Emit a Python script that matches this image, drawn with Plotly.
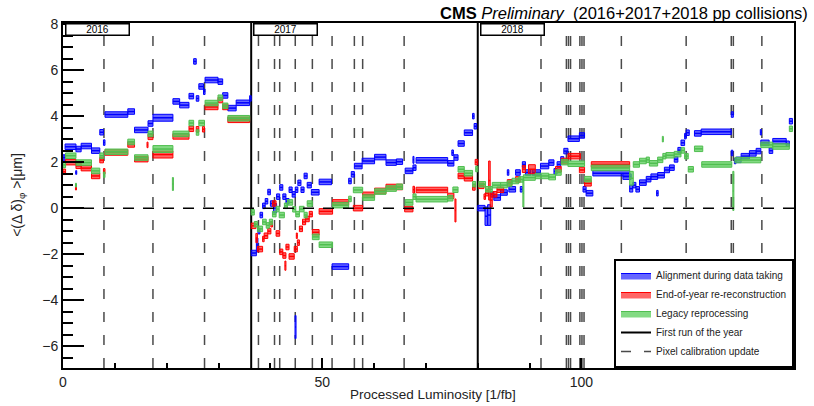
import plotly.graph_objects as go

# ---------------- data ----------------
X_RANGE = [0, 141]
Y_RANGE = [-6.95, 8.05]
DEFAULT_ERR = 0.12

year_starts = [0.0, 36.3, 80.0]
year_labels = ["2016", "2017", "2018"]
calibration_updates = [7.9, 17.35, 27.3,
                       37.7, 40.8, 41.8, 44.8, 48.1, 51.9, 56.2, 57.8, 65.8,
                       92.2, 97.1, 97.5, 97.9, 99.7, 100.1, 100.5, 107.7, 120.2, 128.9, 129.3, 134.8]

# (start luminosity, end luminosity, <Δδ>_phi in μm, optional half band height)
blue_segments = [
    (0.0, 0.4, 2.2), (0.4, 2.5, 2.67), (2.5, 3.5, 2.57), (2.45, 2.65, 1.55, 0.08), (3.5, 5.5, 2.7),
    (5.5, 7.1, 2.5), (7.1, 7.8, 3.3), (7.8, 8.1, 2.85), (8.1, 12.5, 4.07), (12.5, 13.8, 4.2),
    (13.8, 16.4, 3.4), (16.4, 17.35, 3.68), (17.35, 21.2, 3.93, 0.15), (21.2, 22.5, 4.64),
    (22.5, 24.3, 4.48), (24.3, 25.2, 4.87), (25.2, 25.7, 6.38), (25.7, 26.2, 4.77),
    (26.2, 27.1, 5.29), (27.1, 27.4, 5.06), (27.4, 29.9, 5.57), (29.9, 30.8, 5.5),
    (30.8, 31.8, 4.9), (31.8, 33.4, 4.35), (33.4, 36.0, 4.58), (36.0, 36.3, 4.77),
    # 2017
    (36.3, 37.3, -1.95), (37.3, 37.6, -1.6, 0.3), (37.6, 38.0, -1.0), (38.0, 38.5, -0.3),
    (38.5, 39.0, 0.1), (39.0, 39.5, 0.3), (39.5, 40.0, 0.7), (40.0, 40.6, 0.2),
    (40.6, 41.2, 0.0, 0.2), (41.2, 41.8, 0.5), (41.8, 42.4, 0.9), (42.4, 43.0, 0.5),
    (43.0, 43.6, 0.3), (43.6, 44.2, 0.8), (44.2, 44.8, 0.6), (44.75, 44.95, -5.17, 0.5),
    (44.8, 45.3, 0.8), (45.3, 45.9, 1.1), (45.9, 46.5, 0.8), (46.5, 47.1, 1.4),
    (47.1, 47.9, 1.0), (47.9, 49.4, 0.69), (49.4, 51.8, 1.14), (51.9, 55.1, -2.54),
    (55.1, 55.6, 1.18), (55.6, 56.2, 1.47), (56.2, 57.7, 1.83), (57.7, 60.1, 2.05),
    (60.1, 62.3, 2.22), (62.3, 64.3, 1.98), (64.3, 65.5, 2.02), (66.0, 67.5, 1.62),
    (67.5, 68.1, 1.76), (67.5, 67.7, 2.1, 0.15), (68.1, 74.2, 2.08), (74.2, 75.4, 1.95),
    (75.0, 75.3, 2.41), (75.4, 76.2, 2.2), (76.2, 77.4, 2.81), (77.4, 79.0, 3.28),
    (79.0, 79.3, 4.0), (79.3, 79.8, 3.56),
    # 2018
    (80.0, 81.4, 0.0), (81.4, 81.9, -0.35, 0.4), (81.9, 82.5, -0.3, 0.45), (82.5, 83.1, 0.6),
    (83.1, 84.4, 0.46), (84.4, 85.7, 0.68), (85.7, 86.0, 1.55), (86.0, 87.3, 0.82),
    (87.3, 88.2, 1.55), (88.2, 88.6, 0.82), (88.6, 89.2, 1.9), (89.2, 90.2, 1.55),
    (90.5, 92.1, 1.55), (92.1, 93.7, 1.83), (93.7, 94.7, 1.98), (94.7, 95.3, 1.6),
    (95.3, 96.0, 1.9), (96.0, 96.6, 2.12), (96.6, 97.4, 2.48), (97.4, 99.6, 3.02),
    (99.6, 100.6, 3.16), (100.3, 100.9, 0.82), (100.9, 102.2, 0.65), (102.2, 109.3, 1.52),
    (108.0, 109.6, 1.37), (109.3, 109.9, 0.85, 0.15), (109.9, 110.5, 1.0), (110.5, 111.2, 0.82),
    (111.2, 112.5, 1.11), (112.5, 113.4, 1.26), (113.4, 114.7, 1.37), (114.5, 114.8, 0.65),
    (114.7, 116.0, 1.43), (116.0, 117.0, 1.66), (117.0, 117.9, 1.76), (117.9, 118.6, 2.12),
    (118.6, 119.2, 2.52), (119.2, 119.9, 2.84), (119.9, 120.2, 3.13), (120.2, 120.8, 3.28),
    (121.8, 123.1, 3.25), (123.1, 128.9, 3.32), (128.9, 129.3, 4.07), (128.9, 129.2, 2.4),
    (129.5, 129.8, 2.05), (129.8, 130.8, 2.1), (130.8, 132.4, 2.26), (132.4, 133.7, 2.38),
    (133.7, 134.6, 2.48), (134.5, 134.7, 3.3), (134.6, 136.2, 2.84), (136.2, 136.9, 2.5),
    (136.9, 139.5, 2.91), (139.5, 140.1, 2.8), (140.1, 140.7, 3.78),
]

red_segments = [
    (0.0, 0.5, 1.58), (0.5, 2.5, 2.0), (2.4, 2.6, 0.85, 0.06), (2.5, 3.5, 1.84), (3.5, 5.5, 1.74),
    (5.5, 7.1, 1.4), (7.1, 7.8, 2.09), (7.8, 8.1, 1.6), (8.1, 12.5, 2.42), (12.5, 13.8, 2.77),
    (13.8, 16.4, 2.13), (16.2, 16.4, 2.75), (16.4, 17.35, 3.1), (17.35, 21.2, 2.33, 0.15),
    (21.2, 24.3, 3.12), (24.3, 25.2, 3.45), (25.7, 26.2, 3.43), (26.9, 27.3, 3.43),
    (27.4, 29.9, 4.4), (29.9, 30.8, 4.7), (30.8, 31.8, 4.4), (31.8, 36.0, 3.84),
    # 2017
    (36.3, 37.2, -0.77), (37.2, 37.5, -1.3, 0.2), (37.5, 38.5, -1.78), (38.5, 38.8, -1.34),
    (38.8, 39.5, -1.2), (39.5, 40.1, -1.0), (40.1, 40.4, -0.7), (40.4, 41.1, 0.2),
    (41.1, 41.8, -1.1), (41.8, 42.4, -1.9), (42.4, 43.0, -2.06), (42.8, 43.0, -2.5, 0.2),
    (43.0, 43.6, -1.69), (43.6, 44.6, -2.1), (44.6, 45.2, -1.78), (45.0, 45.2, -1.2),
    (45.2, 45.6, -1.5), (45.6, 46.2, -0.9), (46.2, 46.8, -0.6), (46.8, 47.5, -0.47),
    (47.5, 48.1, -0.26), (48.1, 49.4, -1.05), (49.4, 52.0, -0.14), (52.0, 55.1, 0.25),
    (56.0, 57.8, 0.0), (57.8, 60.1, 0.58), (60.1, 62.3, 0.75), (62.3, 65.5, 0.92),
    (65.9, 67.5, -0.04), (67.5, 67.8, 0.8, 0.15), (68.1, 74.2, 0.79), (74.2, 75.4, 0.53),
    (75.6, 75.8, -0.1, 0.5), (76.2, 77.4, 1.4), (77.4, 79.0, 1.3), (79.0, 79.5, 0.9),
    (79.5, 80.0, 2.0),
    # 2018
    (80.2, 81.2, 0.97), (81.2, 81.5, 0.5), (81.5, 82.1, 0.65), (82.1, 82.4, 1.2, 0.85),
    (82.4, 82.8, 0.35, 0.3), (82.8, 83.7, 0.6), (83.7, 85.0, 0.8), (85.7, 86.6, 1.12),
    (87.3, 88.2, 1.25), (88.6, 89.2, 1.7, 0.15), (89.8, 91.1, 1.69, 0.2), (95.0, 96.1, 1.69),
    (96.1, 97.4, 2.05), (97.4, 99.8, 2.26), (99.6, 100.6, 1.66), (100.6, 101.9, 1.08),
    (101.9, 109.3, 1.9),
]

green_segments = [
    (0.0, 0.5, 1.88), (0.5, 2.5, 2.28), (2.4, 2.6, 1.0, 0.08), (2.5, 5.5, 1.98), (5.5, 7.1, 1.62),
    (7.1, 7.8, 2.28), (7.8, 8.1, 1.45), (8.1, 12.5, 2.45), (12.5, 13.8, 2.88), (13.8, 16.4, 2.2),
    (16.4, 17.35, 3.23), (17.35, 21.2, 2.57, 0.15), (21.1, 21.3, 1.05, 0.28), (21.2, 24.3, 3.23),
    (24.3, 25.2, 3.7), (25.7, 26.2, 3.29), (26.2, 27.3, 3.7), (27.4, 29.9, 4.57),
    (29.9, 30.8, 4.8), (30.8, 31.8, 4.45), (31.8, 36.0, 3.91),
    # 2017
    (36.3, 36.9, -0.18), (36.9, 37.5, -0.7), (37.5, 38.5, -0.9), (38.5, 39.2, -0.6),
    (39.2, 39.8, -0.75), (39.8, 40.4, -0.6), (40.4, 41.1, -0.26), (41.1, 41.7, -0.04),
    (41.7, 42.7, -0.3), (42.7, 43.3, 0.1), (43.3, 44.3, 0.25), (44.3, 44.9, -0.05),
    (44.9, 45.6, -0.26), (45.6, 46.5, -0.04), (46.5, 47.1, -0.3), (47.1, 48.1, 0.2),
    (48.1, 49.4, -1.25), (49.4, 52.0, -1.59), (52.0, 55.1, 0.13), (55.1, 55.6, 0.4),
    (56.0, 57.8, 0.79), (57.8, 60.1, 0.46), (60.1, 62.3, 0.72), (62.3, 64.3, 0.85),
    (64.3, 65.5, 0.93), (66.0, 67.5, 0.25), (67.5, 68.1, 0.5), (68.1, 74.2, 0.39),
    (74.2, 75.2, 0.43), (75.2, 76.2, 0.8), (76.2, 77.4, 1.69), (77.4, 79.0, 1.52),
    (79.0, 79.6, 1.04), (79.6, 80.0, 1.7),
    # 2018
    (80.2, 81.5, 1.04), (81.5, 82.8, 0.82), (82.8, 84.4, 1.0), (84.4, 85.7, 1.0),
    (85.7, 86.6, 1.07), (86.6, 87.9, 1.18), (87.9, 88.8, 1.25), (88.7, 88.9, 0.65, 0.6),
    (88.8, 91.1, 1.33), (91.1, 93.7, 1.4), (93.7, 95.0, 1.35), (95.0, 96.1, 1.55),
    (96.1, 97.4, 2.0), (97.4, 100.6, 1.93), (100.6, 101.9, 1.26), (101.9, 109.3, 1.75),
    (109.3, 110.0, 1.3, 0.3), (110.0, 111.2, 1.9), (111.2, 112.5, 2.05), (112.5, 113.1, 2.1),
    (113.1, 114.7, 1.95), (114.7, 115.7, 2.1), (115.6, 115.8, 3.0, 0.12), (115.7, 116.3, 2.26),
    (116.3, 117.9, 2.3), (117.9, 119.2, 2.35), (119.2, 119.9, 2.51), (119.9, 120.6, 2.26),
    (120.6, 121.6, 1.69), (121.8, 123.4, 2.58), (123.2, 129.0, 1.9), (129.2, 129.4, 0.75, 0.85),
    (129.6, 134.6, 2.09), (134.6, 136.9, 2.75), (136.9, 140.1, 2.68), (140.1, 140.7, 3.45),
]

series = [
    ("Alignment during data taking", blue_segments, "rgb(0,0,255)", "rgba(0,0,255,0.6)"),
    ("End-of-year re-reconstruction", red_segments, "rgb(255,0,0)", "rgba(255,0,0,0.6)"),
    ("Legacy reprocessing", green_segments, "rgb(80,190,80)", "rgba(90,205,90,0.75)"),
]

FONT = "Liberation Sans, Arial, sans-serif"

fig = go.Figure()

# pixel calibration updates (dashed) and first runs (solid)
cx, cy = [], []
for xv in calibration_updates:
    cx += [xv, xv, None]
    cy += [Y_RANGE[0], Y_RANGE[1], None]
fig.add_trace(go.Scatter(x=cx, y=cy, mode="lines", name="Pixel calibration update",
                         line=dict(color="#4a4a4a", width=1.5, dash="10px,13px"),
                         legendrank=5, hoverinfo="skip"))
yx, yy = [], []
for xv in year_starts[1:]:
    yx += [xv, xv, None]
    yy += [Y_RANGE[0], Y_RANGE[1], None]
fig.add_trace(go.Scatter(x=yx, y=yy, mode="lines", name="First run of the year",
                         line=dict(color="black", width=2), legendrank=4, hoverinfo="skip"))

for rank, (name, segs, col, fcol) in enumerate(series, start=1):
    bx, by, lx, ly = [], [], [], []
    for s in segs:
        x0, x1, y = s[0], s[1], s[2]
        e = s[3] if len(s) > 3 else DEFAULT_ERR
        bx += [x0, x1, x1, x0, x0, None]
        by += [y - e, y - e, y + e, y + e, y - e, None]
        lx += [x0, x1, None]
        ly += [y, y, None]
    fig.add_trace(go.Scatter(x=bx, y=by, mode="lines", fill="toself", fillcolor=fcol,
                             line=dict(color=col, width=1), name=name, legendrank=rank,
                             legendgroup=name, hoverinfo="skip"))
    fig.add_trace(go.Scatter(x=lx, y=ly, mode="lines", line=dict(color=col, width=1.5),
                             showlegend=False, legendgroup=name, hoverinfo="skip"))

fig.add_hline(y=0, line=dict(color="black", width=1.5, dash="11px,9px"), layer="above")

# year labels
for xv, lab in zip(year_starts, year_labels):
    fig.add_annotation(x=xv, xref="x", xshift=2, y=1, yref="paper", xanchor="left", yanchor="top",
                       text=lab, showarrow=False, font=dict(family=FONT, size=10, color="black"),
                       width=62, height=10, bgcolor="white", bordercolor="black", borderwidth=1.5,
                       borderpad=0)

fig.add_annotation(x=1.022, xref="paper", y=1, yref="paper", xanchor="right", yanchor="bottom",
                   yshift=-1, showarrow=False,
                   text="<b>CMS</b> <i>Preliminary</i>  (2016+2017+2018 pp collisions)",
                   font=dict(family=FONT, size=16.5, color="black"))
fig.add_annotation(x=0.506, xref="paper", y=-0.05, yref="paper", xanchor="center", yanchor="top",
                   showarrow=False, text="Processed Luminosity [1/fb]",
                   font=dict(family=FONT, size=13.5, color="#222"))
fig.add_annotation(x=-0.061, xref="paper", y=0.503, yref="paper", xanchor="center", yanchor="middle",
                   textangle=-90, showarrow=False,
                   text="&lt;(Δ δ)<sub>φ</sub> &gt;[μm]",
                   font=dict(family=FONT, size=14, color="#222"))

fig.update_layout(
    width=814, height=406,
    margin=dict(l=63, r=20, t=23, b=38),
    plot_bgcolor="white", paper_bgcolor="white",
    font=dict(family=FONT, size=14, color="#222"),
    showlegend=True,
    legend=dict(x=1, y=0, xanchor="right", yanchor="bottom", bgcolor="white",
                bordercolor="black", borderwidth=2, font=dict(family=FONT, size=10, color="#222"),
                tracegroupgap=0, itemwidth=30),
    xaxis=dict(range=X_RANGE, showgrid=False, zeroline=False, showline=True, linewidth=2,
               linecolor="black", mirror=True, ticks="inside", ticklen=10, tickwidth=1.5,
               tickcolor="black", dtick=50, tick0=0, automargin=False,
               tickfont=dict(family=FONT, size=14, color="#222"),
               minor=dict(ticks="inside", ticklen=5, dtick=10, tickcolor="black", tickwidth=1.5)),
    yaxis=dict(range=Y_RANGE, showgrid=False, zeroline=False, showline=True, linewidth=2,
               linecolor="black", mirror=True, ticks="inside", ticklen=21, tickwidth=1.5,
               tickcolor="black", dtick=2, tick0=0, automargin=False,
               tickfont=dict(family=FONT, size=14, color="#222"),
               minor=dict(ticks="inside", ticklen=10, dtick=0.5, tickcolor="black", tickwidth=1.5)),
)

fig.write_html("out.html", config={"displayModeBar": False},
               post_script="document.body.style.margin='0';document.body.style.overflow='hidden';")
